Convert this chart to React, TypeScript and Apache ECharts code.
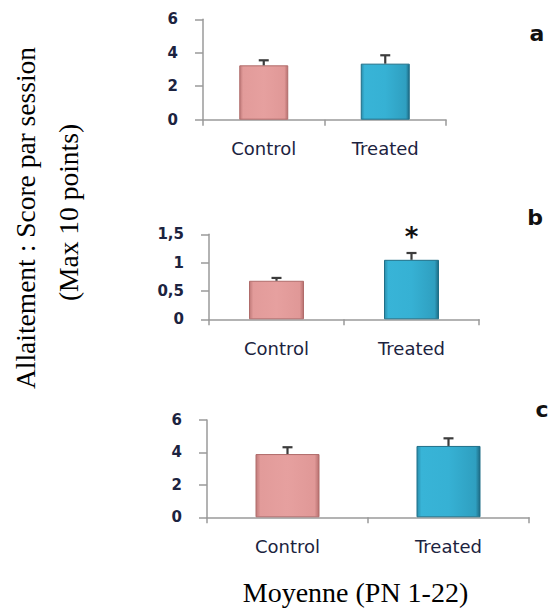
import React, { useEffect, useRef } from "react";
import * as echarts from "echarts";

const categories = ["Control", "Treated"];

const meanA = [3.25, 3.35];
const errA = [0.3, 0.5];
const meanB = [0.68, 1.05];
const errB = [0.05, 0.12];
const meanC = [3.9, 4.4];
const errC = [0.42, 0.47];

const significanceB = ["", "*"];
const panelLetters = ["a", "b", "c"];

const yAxisA = { min: 0, max: 6, interval: 2 };
const yAxisB = { min: 0, max: 1.5, interval: 0.5 };
const yAxisC = { min: 0, max: 6, interval: 2 };

const yTitleLine1 = "Allaitement : Score par session";
const yTitleLine2 = "(Max 10 points)";
const xTitle = "Moyenne (PN 1-22)";

const pinkGrad = () =>
  new echarts.graphic.LinearGradient(0, 0, 1, 0, [
    { offset: 0, color: "#c07a79" },
    { offset: 0.07, color: "#e29b9a" },
    { offset: 0.5, color: "#e6a09f" },
    { offset: 0.93, color: "#e09897" },
    { offset: 1, color: "#b87170" },
  ]);
const blueGrad = () =>
  new echarts.graphic.LinearGradient(0, 0, 1, 0, [
    { offset: 0, color: "#2a8eac" },
    { offset: 0.07, color: "#38b4d7" },
    { offset: 0.5, color: "#36b1d4" },
    { offset: 0.93, color: "#2f9fc0" },
    { offset: 1, color: "#1e6b84" },
  ]);

export default function App() {
  const ref = useRef<HTMLDivElement>(null);
  useEffect(() => {
    if (!ref.current) return;
    const chart = echarts.init(ref.current, null, { renderer: "svg" });
    const grids = [
      { left: 203, top: 19.3, width: 243, height: 100.4 },
      { left: 209, top: 234.3, width: 270, height: 85 },
      { left: 207, top: 420, width: 322, height: 97.3 },
    ];
    const yCfgs = [yAxisA, yAxisB, yAxisC];
    const means = [meanA, meanB, meanC];
    const errs = [errA, errB, errC];
    const barWidths = [49, 55, 64];
    const axisColor = "#9a9a9a";
    const labelColor = "#1c2340";

    const xAxes = grids.map((_, i) => ({
      type: "category",
      gridIndex: i,
      data: categories,
      axisLine: { show: true, lineStyle: { color: axisColor, width: 1.5 } },
      axisTick: { show: true, length: 6, lineStyle: { color: axisColor, width: 1.5 } },
      axisLabel: {
        margin: 20,
        fontFamily: "DejaVu Sans",
        fontSize: 18,
        color: labelColor,
      },
    }));
    const yAxes = grids.map((_, i) => ({
      type: "value",
      gridIndex: i,
      min: yCfgs[i].min,
      max: yCfgs[i].max,
      interval: yCfgs[i].interval,
      splitLine: { show: false },
      axisLine: { show: true, lineStyle: { color: axisColor, width: 1.5 } },
      axisTick: { show: true, length: 8, lineStyle: { color: axisColor, width: 1.5 } },
      axisLabel: {
        margin: 25,
        fontFamily: "DejaVu Sans",
        fontWeight: "bold",
        fontSize: 15,
        color: labelColor,
        formatter: (v: number) => String(v).replace(".", ","),
      },
    }));

    const series: any[] = [];
    grids.forEach((_, i) => {
      series.push({
        type: "bar",
        xAxisIndex: i,
        yAxisIndex: i,
        barWidth: barWidths[i],
        data: means[i].map((v, j) => ({
          value: v,
          itemStyle: {
            color: j === 0 ? pinkGrad() : blueGrad(),
            borderColor: j === 0 ? "#b06c6b" : "#1f6f88",
            borderWidth: 1,
          },
          label:
            i === 1 && significanceB[j]
              ? {
                  show: true,
                  position: "top",
                  formatter: significanceB[j],
                  fontFamily: "DejaVu Sans",
                  fontWeight: "bold",
                  fontSize: 26,
                  color: "#111",
                  distance: 10,
                }
              : { show: false },
        })),
      });
      series.push({
        type: "custom",
        xAxisIndex: i,
        yAxisIndex: i,
        z: 5,
        encode: { x: 0, y: 1 },
        data: means[i].map((v, j) => [j, v, errs[i][j]]),
        renderItem: (params: any, api: any) => {
          const x = api.value(0);
          const v = api.value(1);
          const e = api.value(2);
          const base = api.coord([x, v]);
          const top = api.coord([x, v + e]);
          const half = 5;
          const style = { stroke: "#3c3c3c", lineWidth: 2.2 };
          return {
            type: "group",
            children: [
              { type: "line", shape: { x1: base[0], y1: base[1], x2: top[0], y2: top[1] }, style },
              { type: "line", shape: { x1: top[0] - half, y1: top[1], x2: top[0] + half, y2: top[1] }, style },
            ],
          };
        },
      });
    });

    const letterPos = [
      [537, 33],
      [535, 217],
      [542, 409],
    ];

    chart.setOption({
      animation: false,
      backgroundColor: "#ffffff",
      grid: grids,
      xAxis: xAxes,
      yAxis: yAxes,
      series,
      graphic: [
        ...panelLetters.map((t, i) => ({
          type: "text",
          x: letterPos[i][0],
          y: letterPos[i][1],
          style: {
            text: t,
            fontFamily: "DejaVu Sans",
            fontWeight: "bold",
            fontSize: 22,
            fill: "#111",
            textAlign: "center",
            textVerticalAlign: "middle",
          },
        })),
        {
          type: "text",
          x: 25,
          y: 218,
          rotation: Math.PI / 2,
          style: {
            text: yTitleLine1,
            fontFamily: "Liberation Serif",
            fontSize: 27.5,
            fill: "#000",
            textAlign: "center",
            textVerticalAlign: "middle",
          },
        },
        {
          type: "text",
          x: 68,
          y: 212.5,
          rotation: Math.PI / 2,
          style: {
            text: yTitleLine2,
            fontFamily: "Liberation Serif",
            fontSize: 27.5,
            fill: "#000",
            textAlign: "center",
            textVerticalAlign: "middle",
          },
        },
        {
          type: "text",
          x: 355.5,
          y: 592,
          style: {
            text: xTitle,
            fontFamily: "Liberation Serif",
            fontSize: 28,
            fill: "#000",
            textAlign: "center",
            textVerticalAlign: "middle",
          },
        },
      ],
    });
    return () => chart.dispose();
  }, []);
  return (
    <div
      ref={ref}
      style={{ position: "absolute", left: 0, top: 0, width: 554, height: 608 }}
    />
  );
}
